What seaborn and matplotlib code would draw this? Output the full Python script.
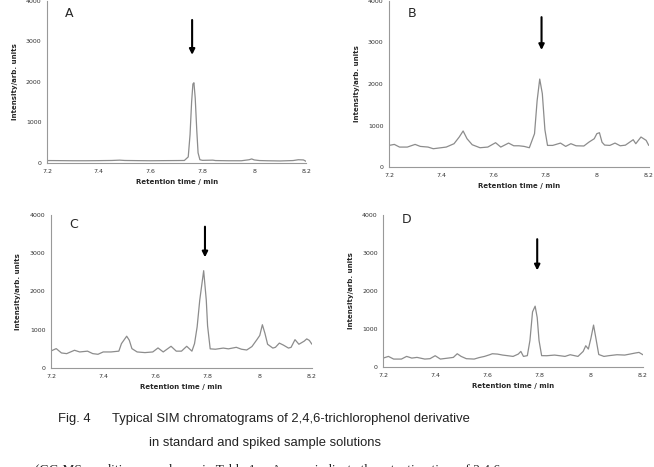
import seaborn as sns
import matplotlib
matplotlib.use("Agg")
import matplotlib.pyplot as plt
import pandas as pd

# --- data (retention time / min, intensity) ---
time_a = [7.20, 7.25, 7.30, 7.35, 7.40, 7.45, 7.48, 7.50, 7.55, 7.60, 7.65, 7.70, 7.73,
          7.745, 7.752, 7.758, 7.763, 7.767, 7.772, 7.778, 7.783, 7.79, 7.80, 7.84, 7.85,
          7.90, 7.95, 7.98, 7.99, 8.00, 8.02, 8.05, 8.10, 8.15, 8.17, 8.19, 8.20]
int_a = [60, 58, 55, 55, 58, 62, 70, 62, 58, 55, 58, 60, 62,
         150, 700, 1500, 1950, 1980, 1600, 800, 250, 80, 65, 70, 60,
         55, 55, 80, 100, 75, 60, 55, 50, 60, 80, 75, 40]

time_b = [7.20, 7.22, 7.24, 7.27, 7.30, 7.32, 7.35, 7.37, 7.40, 7.42, 7.45, 7.47, 7.485,
          7.50, 7.52, 7.55, 7.58, 7.61, 7.63, 7.66, 7.68, 7.70, 7.72, 7.74, 7.76, 7.77,
          7.78, 7.79, 7.80, 7.81, 7.83, 7.86, 7.88, 7.90, 7.92, 7.95, 7.97, 7.99, 8.00,
          8.01, 8.02, 8.03, 8.05, 8.07, 8.09, 8.11, 8.14, 8.15, 8.17, 8.19, 8.20]
int_b = [524, 548, 484, 484, 548, 500, 484, 444, 468, 484, 565, 726, 871,
         685, 540, 468, 484, 589, 484, 580, 515, 515, 500, 468, 806, 1600,
         2120, 1770, 900, 524, 524, 580, 500, 565, 515, 510, 605, 685, 806,
         830, 600, 532, 524, 580, 515, 530, 661, 565, 726, 645, 524]

time_c = [7.20, 7.22, 7.24, 7.26, 7.29, 7.31, 7.34, 7.36, 7.38, 7.40, 7.43, 7.46, 7.47,
          7.49, 7.50, 7.51, 7.53, 7.56, 7.59, 7.61, 7.63, 7.66, 7.68, 7.70, 7.72, 7.74,
          7.75, 7.76, 7.77, 7.785, 7.795, 7.80, 7.81, 7.83, 7.86, 7.88, 7.91, 7.93, 7.95,
          7.97, 7.99, 8.00, 8.01, 8.02, 8.03, 8.05, 8.06, 8.075, 8.09, 8.11, 8.12, 8.135,
          8.15, 8.17, 8.18, 8.19, 8.20]
int_c = [445, 506, 393, 375, 463, 419, 440, 375, 358, 419, 419, 440, 637,
         830, 725, 506, 419, 402, 419, 524, 419, 567, 440, 440, 567, 440,
         637, 1074, 1773, 2541, 1773, 1100, 500, 490, 520, 500, 540, 490, 470,
         560, 750, 850, 1130, 900, 620, 520, 540, 650, 600, 520, 540, 740,
         620, 700, 760, 720, 620]

time_d = [7.20, 7.22, 7.24, 7.27, 7.29, 7.31, 7.33, 7.36, 7.38, 7.40, 7.42, 7.45, 7.47,
          7.485, 7.50, 7.52, 7.55, 7.57, 7.59, 7.61, 7.62, 7.64, 7.66, 7.68, 7.70, 7.72,
          7.73, 7.74, 7.755, 7.765, 7.775, 7.785, 7.793, 7.80, 7.81, 7.83, 7.86, 7.88,
          7.90, 7.92, 7.95, 7.97, 7.98, 7.99, 8.00, 8.01, 8.02, 8.03, 8.05, 8.07, 8.10,
          8.13, 8.15, 8.17, 8.185, 8.20]
int_d = [236, 280, 210, 210, 280, 236, 254, 210, 220, 298, 210, 236, 254,
         350, 280, 220, 210, 250, 280, 324, 350, 341, 315, 298, 280, 341,
         411, 280, 300, 700, 1450, 1600, 1300, 700, 300, 298, 315, 298,
         280, 324, 280, 411, 560, 473, 761, 1103, 720, 330, 280, 300, 324,
         315, 341, 368, 385, 324]

panel_names = ["A", "B", "C", "D"]
arrow_time = [7.76, 7.787, 7.79, 7.793]
arrow_top = [3530, 3610, 3690, 3360]
arrow_tip = [2670, 2820, 2890, 2540]

x_ticks = [7.2, 7.4, 7.6, 7.8, 8.0, 8.2]
x_tick_labels = ["7.2", "7.4", "7.6", "7.8", "8", "8.2"]
y_ticks = [0, 1000, 2000, 3000, 4000]

caption_fig = "Fig. 4"
caption = ["Typical SIM chromatograms of 2,4,6-trichlorophenol derivative",
           "in standard and spiked sample solutions",
           "(GC-MS conditions are shown in Table 1.    Arrows indicate the retention time of 2,4,6-"]

frames = [pd.DataFrame({"t": t, "i": i}) for t, i in
          [(time_a, int_a), (time_b, int_b), (time_c, int_c), (time_d, int_d)]]

sns.set_style("white")
plt.rcParams["font.family"] = ["DejaVu Sans"]

fig = plt.figure(figsize=(6.54, 4.67), dpi=100)

boxes = [(0.072, 0.651, 0.396, 0.347),
         (0.595, 0.642, 0.397, 0.356),
         (0.078, 0.212, 0.399, 0.328),
         (0.586, 0.214, 0.397, 0.326)]
label_y = [3700, 3690, 3740, 3890]

for k in range(4):
    ax = fig.add_axes(boxes[k])
    sns.lineplot(data=frames[k], x="t", y="i", ax=ax, color="#8c8c8c",
                 linewidth=0.9, sort=False)
    ax.set_xlim(7.2, 8.2)
    ax.set_ylim(0, 4000)
    ax.set_xticks(x_ticks)
    ax.set_xticklabels(x_tick_labels)
    ax.set_yticks(y_ticks)
    ax.tick_params(axis="both", labelsize=4.5, length=2, width=0.5,
                   colors="#333333", pad=2, direction="out")
    for s in ["top", "right"]:
        ax.spines[s].set_visible(False)
    for s in ["left", "bottom"]:
        ax.spines[s].set_color("#999999")
        ax.spines[s].set_linewidth(0.8)
    ax.set_xlabel("Retention time / min", fontsize=5, fontweight="bold", labelpad=4)
    ax.set_ylabel("Intensity/arb. units", fontsize=5, fontweight="bold", labelpad=6)
    ax.text(7.27, label_y[k], panel_names[k], fontsize=9, va="center", ha="left")
    ax.annotate("", xy=(arrow_time[k], arrow_tip[k]),
                xytext=(arrow_time[k], arrow_top[k]),
                arrowprops=dict(arrowstyle="-|>", color="black", lw=1.5,
                                mutation_scale=8, shrinkA=0, shrinkB=0))

cap_size = 9.4
fig.text(58 / 654, 1 - 419 / 467, caption_fig, fontsize=cap_size, ha="left",
         va="center", family="Liberation Sans", color="#222222")
fig.text(112 / 654, 1 - 419 / 467, caption[0], fontsize=cap_size, ha="left",
         va="center", family="Liberation Sans", color="#222222")
fig.text(265 / 654, 1 - 443 / 467, caption[1], fontsize=cap_size, ha="center",
         va="center", family="Liberation Sans", color="#222222")
fig.text(35 / 654, 1 - 469 / 467, caption[2], fontsize=9.6, ha="left",
         va="center", family="Liberation Serif", color="#222222")

fig.savefig("out.png", dpi=100)
